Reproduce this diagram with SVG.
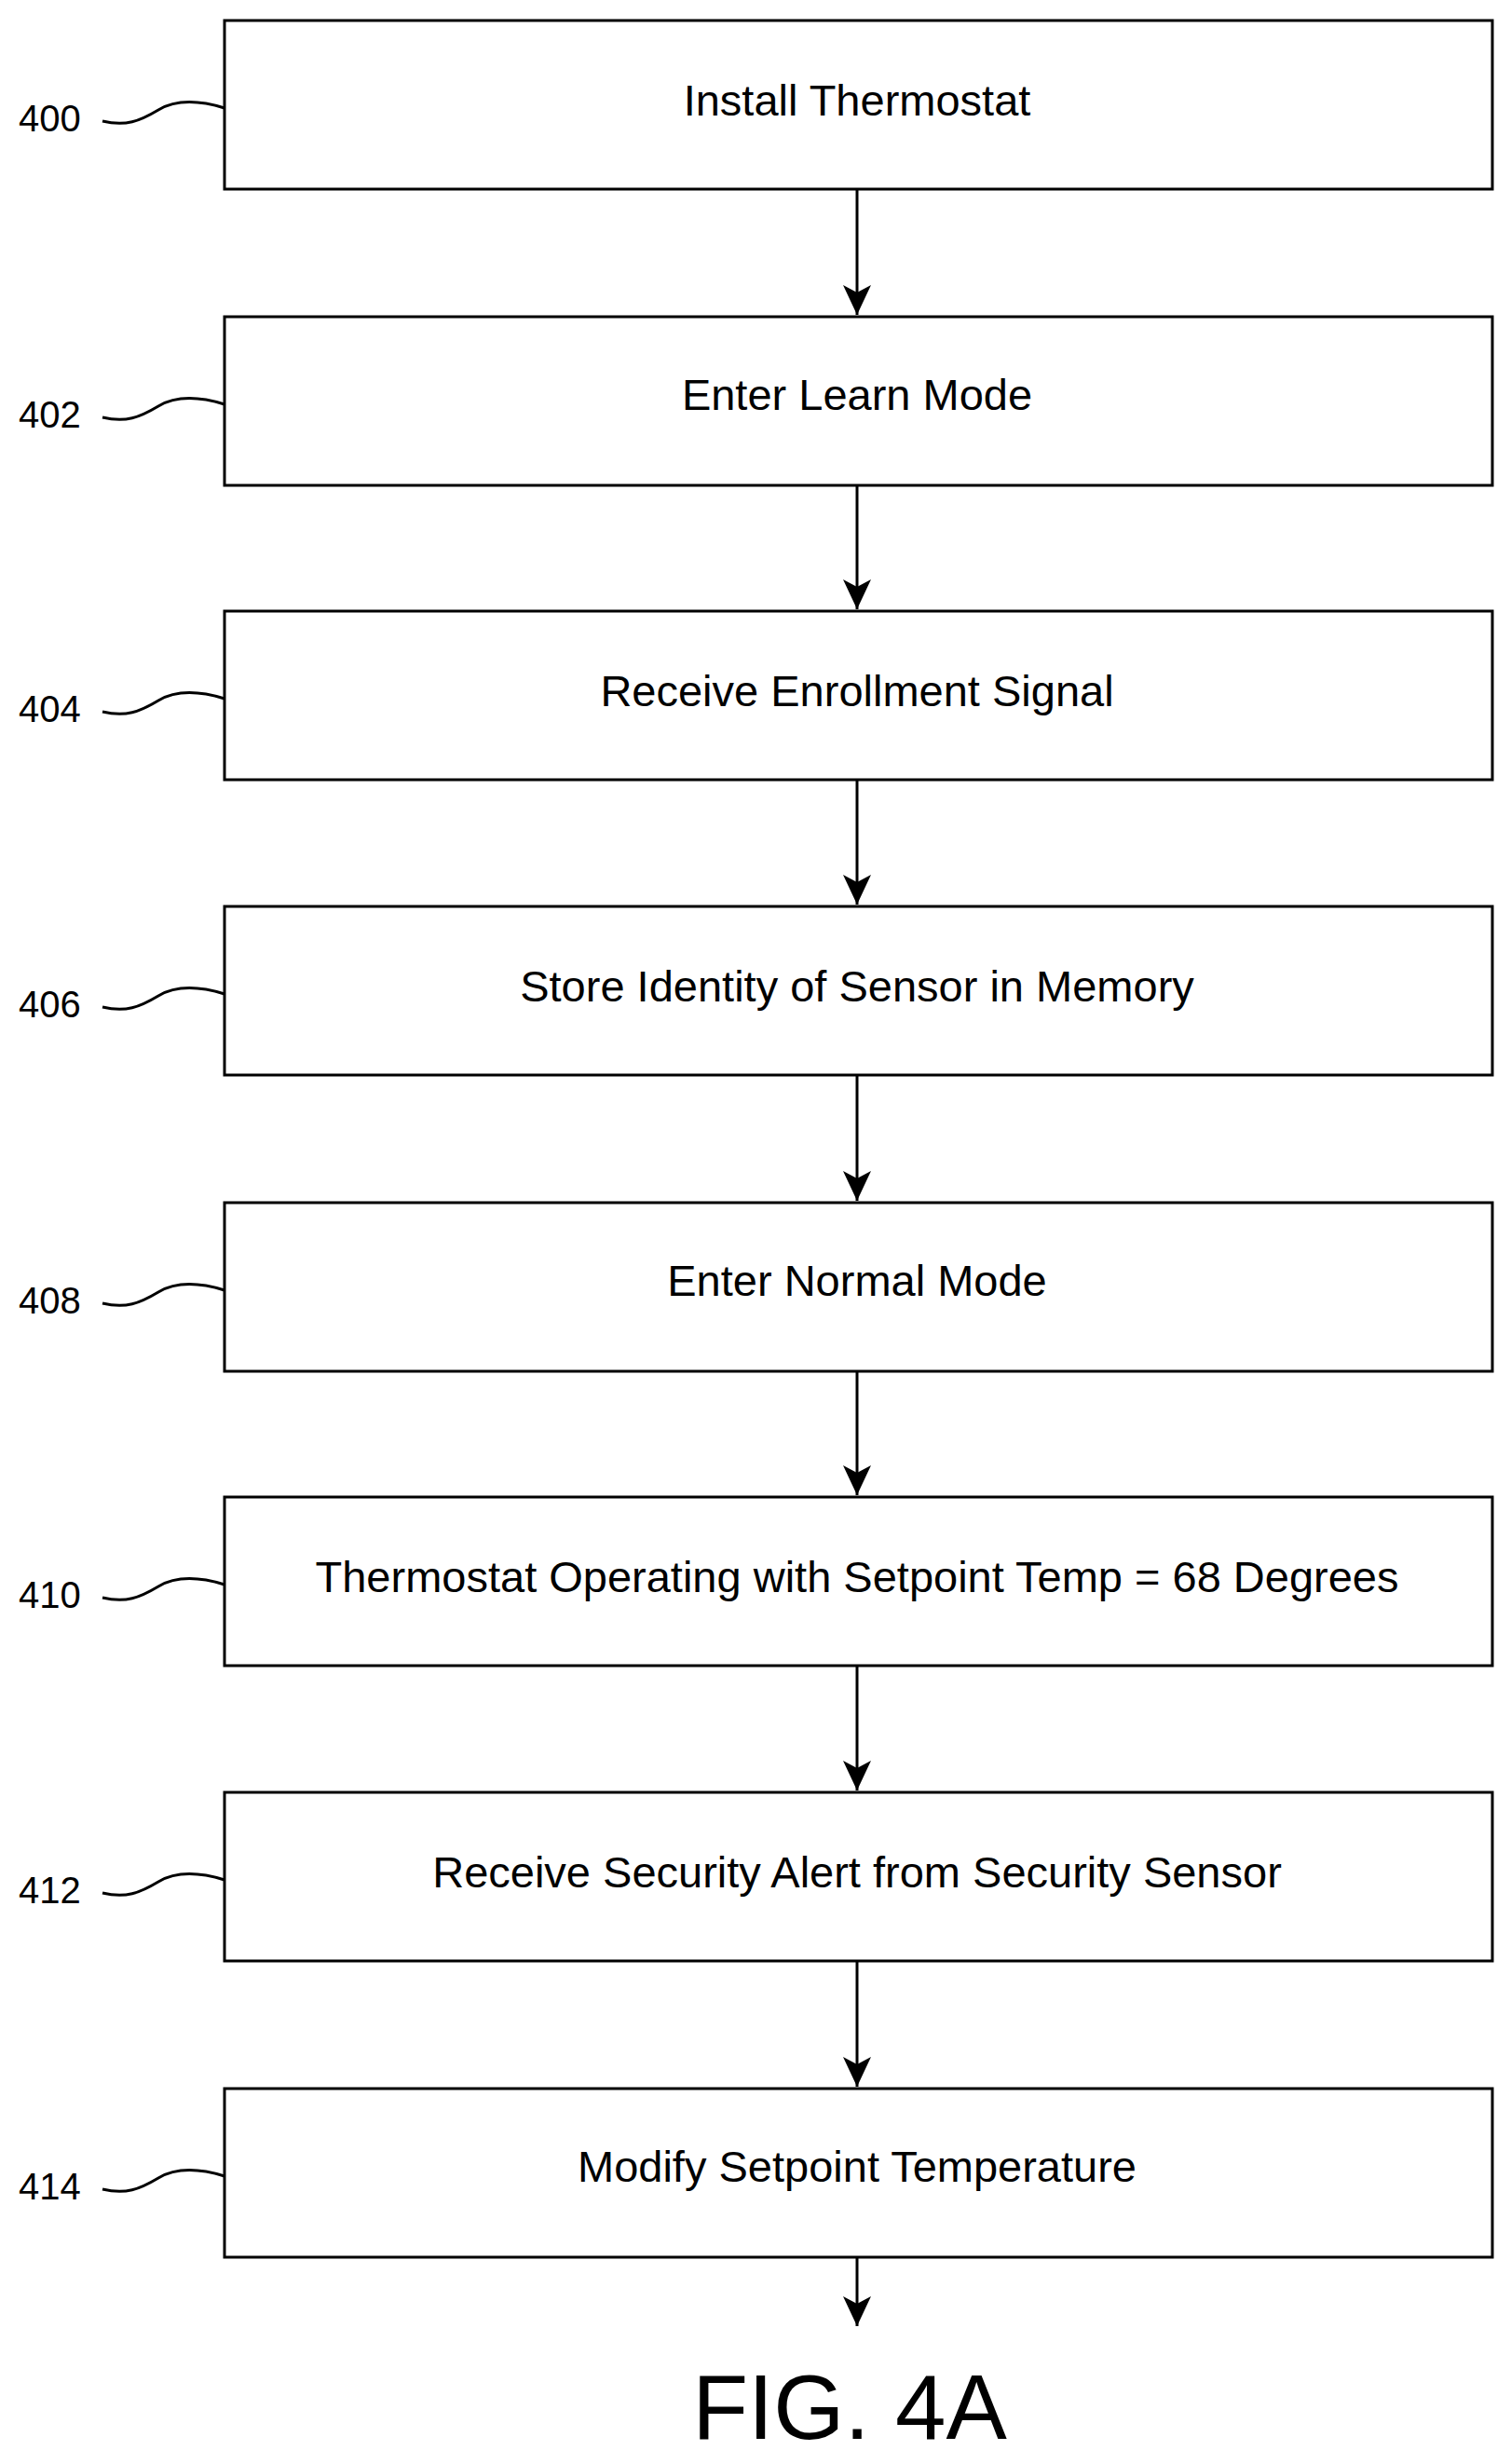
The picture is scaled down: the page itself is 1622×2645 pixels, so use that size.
<svg xmlns="http://www.w3.org/2000/svg" width="1622" height="2645" viewBox="0 0 1622 2645">
<style>
.b{fill:#fff;stroke:#000;stroke-width:3}
.t{font-family:"Liberation Sans",Arial,sans-serif;font-size:47px;text-anchor:middle;dominant-baseline:middle}
.l{font-family:"Liberation Sans",Arial,sans-serif;font-size:40px;dominant-baseline:middle}
.s{fill:none;stroke:#000;stroke-width:3}
.c{stroke:#000;stroke-width:3;marker-end:url(#a)}
</style>
<defs><marker id="a" markerWidth="30" markerHeight="32" refX="15" refY="32" orient="0" markerUnits="userSpaceOnUse"><path d="M0,0 L15,8 L30,0 L15,32 Z" fill="#000"/></marker></defs>
<rect width="1622" height="2645" fill="#fff"/>
<g id="n400"><rect class="b" x="241" y="22" width="1361" height="181"/><text class="t" x="920" y="112">Install Thermostat</text><text class="l" x="20" y="130">400</text><path class="s" d="M110,130 C135,136 150,130 170,118 S215,108 241,116"/></g>
<g id="n402"><rect class="b" x="241" y="340" width="1361" height="181"/><text class="t" x="920" y="428">Enter Learn Mode</text><text class="l" x="20" y="448">402</text><path class="s" d="M110,448 C135,454 150,448 170,436 S215,426 241,434"/></g>
<g id="n404"><rect class="b" x="241" y="656" width="1361" height="181"/><text class="t" x="920" y="746">Receive Enrollment Signal</text><text class="l" x="20" y="764">404</text><path class="s" d="M110,764 C135,770 150,764 170,752 S215,742 241,750"/></g>
<g id="n406"><rect class="b" x="241" y="973" width="1361" height="181"/><text class="t" x="920" y="1063">Store Identity of Sensor in Memory</text><text class="l" x="20" y="1081">406</text><path class="s" d="M110,1081 C135,1087 150,1081 170,1069 S215,1059 241,1067"/></g>
<g id="n408"><rect class="b" x="241" y="1291" width="1361" height="181"/><text class="t" x="920" y="1379">Enter Normal Mode</text><text class="l" x="20" y="1399">408</text><path class="s" d="M110,1399 C135,1405 150,1399 170,1387 S215,1377 241,1385"/></g>
<g id="n410"><rect class="b" x="241" y="1607" width="1361" height="181"/><text class="t" x="920" y="1697">Thermostat Operating with Setpoint Temp = 68 Degrees</text><text class="l" x="20" y="1715">410</text><path class="s" d="M110,1715 C135,1721 150,1715 170,1703 S215,1693 241,1701"/></g>
<g id="n412"><rect class="b" x="241" y="1924" width="1361" height="181"/><text class="t" x="920" y="2014">Receive Security Alert from Security Sensor</text><text class="l" x="20" y="2032">412</text><path class="s" d="M110,2032 C135,2038 150,2032 170,2020 S215,2010 241,2018"/></g>
<g id="n414"><rect class="b" x="241" y="2242" width="1361" height="181"/><text class="t" x="920" y="2330">Modify Setpoint Temperature</text><text class="l" x="20" y="2350">414</text><path class="s" d="M110,2350 C135,2356 150,2350 170,2338 S215,2328 241,2336"/></g>
<g id="connectors">
<line class="c" x1="920" y1="203" x2="920" y2="338"/>
<line class="c" x1="920" y1="521" x2="920" y2="654"/>
<line class="c" x1="920" y1="837" x2="920" y2="971"/>
<line class="c" x1="920" y1="1154" x2="920" y2="1289"/>
<line class="c" x1="920" y1="1472" x2="920" y2="1605"/>
<line class="c" x1="920" y1="1788" x2="920" y2="1922"/>
<line class="c" x1="920" y1="2105" x2="920" y2="2240"/>
<line class="c" x1="920" y1="2423" x2="920" y2="2497"/>
</g>
<text x="912" y="2618" style="font-family:'Liberation Sans',Arial,sans-serif;font-size:98px;text-anchor:middle">FIG. 4A</text>
</svg>
